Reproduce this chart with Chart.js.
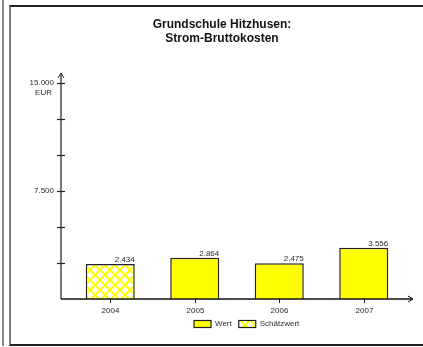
<!DOCTYPE html>
<html>
<head>
<meta charset="utf-8">
<script src="https://cdn.jsdelivr.net/npm/chart.js@4.4.1/dist/chart.umd.min.js"></script>
<style>
  body { margin: 0; background: #fff; }
  #wrap { position: relative; width: 423px; height: 347px; overflow: hidden; }
  #sideLine { position: absolute; left: 2px; top: 0; width: 2px; height: 346px; background: #8a8a8a; }
  #frame { position: absolute; left: 9px; top: 5px; width: 430px; height: 337px;
           border-left: 2px solid #7a7a7a; border-top: 2px solid #222; border-bottom: 2px solid #222; }
  #myChart { position: absolute; left: 0; top: 0; }
</style>
</head>
<body>
<div id="wrap">
  <div id="sideLine"></div>
  <div id="frame"></div>
  <canvas id="myChart" width="423" height="347"></canvas>
</div>
<script>
var ctx = document.querySelector('#myChart');

var titleLines = ['Grundschule Hitzhusen:', 'Strom-Bruttokosten'];
var years = ['2004', '2005', '2006', '2007'];
var wertValues = [null, 2864, 2475, 3556];
var schaetzwertValues = [2434, null, null, null];
var yLabelledTicks = [15000, 7500];
var yUnit = 'EUR';

const Y_MAX = 15000;
const Y_STEP = 2500;
const FONT = '"Liberation Sans", Arial, sans-serif';
const TEXT_COLOR = '#2a2a2a';

function makeHatch(){
  var c = document.createElement('canvas');
  c.width = 10;
  c.height = 10;
  var g = c.getContext('2d');
  g.fillStyle = '#fff';
  g.fillRect(0, 0, 10, 10);
  g.strokeStyle = '#ffff00';
  g.lineWidth = 2;
  g.beginPath();
  g.moveTo(-1, -1); g.lineTo(11, 11);
  g.moveTo(11, -1); g.lineTo(-1, 11);
  g.stroke();
  return g.createPattern(c, 'repeat');
}

var hatch = makeHatch();

function fmt(v){
  return v.toLocaleString('de-DE');
}

// draws the axes, labels, title and legend the way the old office chart had them
var decorPlugin = {
  id: 'decor',
  afterDatasetsDraw(chart){
    var c = chart.ctx;
    var area = chart.chartArea;
    var xs = chart.scales.x;
    var ys = chart.scales.y;
    var axisX = area.left - 7;
    var axisY = ys.getPixelForValue(0);

    c.save();

    // y axis
    c.strokeStyle = '#777';
    c.lineWidth = 2;
    c.beginPath();
    c.moveTo(axisX, axisY);
    c.lineTo(axisX, area.top - 10);
    c.stroke();
    c.strokeStyle = '#333';
    c.lineWidth = 1;
    c.beginPath();
    c.moveTo(axisX - 3, area.top - 5);
    c.lineTo(axisX, area.top - 10);
    c.lineTo(axisX + 3, area.top - 5);
    c.stroke();

    c.strokeStyle = '#222';
    c.lineWidth = 1.2;
    ys.ticks.forEach(t => {
      if(t.value === 0) return;
      var py = Math.round(ys.getPixelForValue(t.value)) + 0.5;
      c.beginPath();
      c.moveTo(axisX - 4, py);
      c.lineTo(axisX + 4, py);
      c.stroke();
    });

    c.fillStyle = TEXT_COLOR;
    c.font = '8px ' + FONT;
    c.textAlign = 'right';
    c.textBaseline = 'middle';
    yLabelledTicks.forEach(v => {
      var py = ys.getPixelForValue(v);
      c.fillText(fmt(v), axisX - 7, py);
      if(v === Y_MAX) c.fillText(yUnit, axisX - 9, py + 10);
    });

    // x axis
    c.strokeStyle = '#111';
    c.lineWidth = 1.5;
    c.beginPath();
    c.moveTo(axisX, axisY);
    c.lineTo(area.right + 7, axisY);
    c.stroke();
    c.lineWidth = 1;
    c.beginPath();
    c.moveTo(area.right + 2, axisY - 3);
    c.lineTo(area.right + 7, axisY);
    c.lineTo(area.right + 2, axisY + 3);
    c.stroke();

    c.textAlign = 'center';
    years.forEach((y, i) => {
      var px = Math.round(xs.getPixelForTick(i)) + 0.5;
      c.beginPath();
      c.moveTo(px, axisY);
      c.lineTo(px, axisY + 4);
      c.stroke();
      c.fillText(y, px, axisY + 12);
    });

    // values above the bars
    c.textAlign = 'right';
    c.textBaseline = 'alphabetic';
    chart.data.datasets.forEach((ds, di) => {
      var meta = chart.getDatasetMeta(di);
      meta.data.forEach((bar, i) => {
        if(ds.data[i] == null) return;
        c.fillText(fmt(ds.data[i]), bar.x + bar.width / 2, bar.y - 2);
      });
    });

    // title
    c.font = 'bold 12px ' + FONT;
    c.textAlign = 'center';
    c.fillStyle = '#111';
    c.fillText(titleLines[0], 222, 28);
    c.fillText(titleLines[1], 222, 42);

    // legend
    c.font = '8px ' + FONT;
    c.textAlign = 'left';
    c.textBaseline = 'middle';
    c.fillStyle = TEXT_COLOR;
    var lx = 194;
    var ly = 324;
    chart.data.datasets.forEach(ds => {
      c.fillStyle = ds.backgroundColor;
      c.fillRect(lx, ly - 3.5, 17, 7);
      c.strokeStyle = '#222';
      c.lineWidth = 1.2;
      c.strokeRect(lx, ly - 3.5, 17, 7);
      c.fillStyle = TEXT_COLOR;
      c.fillText(ds.label, lx + 21, ly);
      lx += 21 + c.measureText(ds.label).width + 7;
    });

    c.restore();
  }
};

function loadChart(){
  new Chart(ctx, {
    type: 'bar',
    data: {
      labels: years,
      datasets: [
        {
          label: 'Wert',
          data: wertValues,
          backgroundColor: '#ffff00',
          borderColor: '#222',
          borderWidth: 1.5,
          grouped: false
        },
        {
          label: 'Schätzwert',
          data: schaetzwertValues,
          backgroundColor: hatch,
          borderColor: '#222',
          borderWidth: 1.5,
          grouped: false
        }
      ]
    },
    options: {
      responsive: false,
      animation: false,
      layout: {
        padding: { left: 68, right: 17, top: 83, bottom: 48 }
      },
      datasets: {
        bar: { categoryPercentage: 1, barPercentage: 0.58 }
      },
      scales: {
        x: { display: false, offset: true },
        y: {
          display: false,
          min: 0,
          max: Y_MAX,
          ticks: { stepSize: Y_STEP }
        }
      },
      plugins: {
        legend: { display: false },
        title: { display: false },
        tooltip: { enabled: false }
      }
    },
    plugins: [decorPlugin]
  });
}

loadChart();
</script>
</body>
</html>
